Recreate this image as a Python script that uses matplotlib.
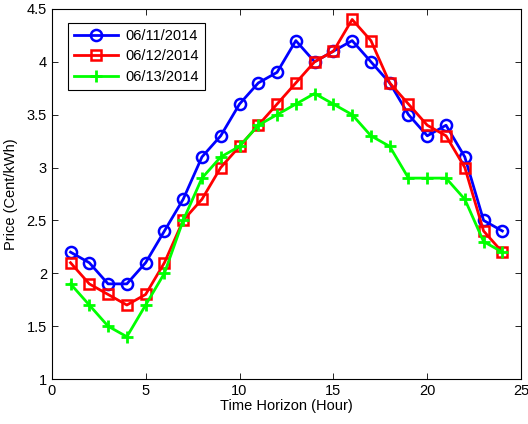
import numpy as np
import matplotlib
matplotlib.use('Agg')
import matplotlib.pyplot as plt

plt.rcParams['font.family'] = ['Liberation Sans', 'DejaVu Sans']
plt.rcParams['font.size'] = 10.5

hours = np.arange(1, 25)
price_0611 = [2.2, 2.1, 1.9, 1.9, 2.1, 2.4, 2.7, 3.1, 3.3, 3.6, 3.8, 3.9,
              4.2, 4.0, 4.1, 4.2, 4.0, 3.8, 3.5, 3.3, 3.4, 3.1, 2.5, 2.4]
price_0612 = [2.1, 1.9, 1.8, 1.7, 1.8, 2.1, 2.5, 2.7, 3.0, 3.2, 3.4, 3.6,
              3.8, 4.0, 4.1, 4.4, 4.2, 3.8, 3.6, 3.4, 3.3, 3.0, 2.4, 2.2]
price_0613 = [1.9, 1.7, 1.5, 1.4, 1.7, 2.0, 2.5, 2.9, 3.1, 3.2, 3.4, 3.5,
              3.6, 3.7, 3.6, 3.5, 3.3, 3.2, 2.9, 2.9, 2.9, 2.7, 2.3, 2.2]
labels = ['06/11/2014', '06/12/2014', '06/13/2014']

fig = plt.figure(figsize=(5.28, 4.24), dpi=100)
ax = fig.add_axes([0.098, 0.106, 0.889, 0.873])

ax.plot(hours, price_0611, color='#0000ff', lw=2, marker='o', ms=8,
        mfc='none', mec='#0000ff', mew=1.8, label=labels[0])
ax.plot(hours, price_0612, color='#ff0000', lw=2, marker='s', ms=7,
        mfc='none', mec='#ff0000', mew=1.8, label=labels[1])
ax.plot(hours, price_0613, color='#00ff00', lw=2, marker='+', ms=8,
        mew=2, label=labels[2])

ax.set_xlim(0, 25)
ax.set_ylim(1, 4.5)
ax.set_xticks([0, 5, 10, 15, 20, 25])
ax.set_yticks([1, 1.5, 2, 2.5, 3, 3.5, 4, 4.5])
ax.set_yticklabels(['1', '1.5', '2', '2.5', '3', '3.5', '4', '4.5'])
ax.tick_params(direction='in', top=True, right=True, length=4, width=0.6)
for s in ax.spines.values():
    s.set_linewidth(0.8)

ax.set_xlabel('Time Horizon (Hour)', labelpad=1)
ax.set_ylabel('Price (Cent/kWh)', labelpad=6)

leg = ax.legend(loc='upper left', bbox_to_anchor=(0.02, 0.982), fancybox=False,
                edgecolor='black', framealpha=1, handlelength=3.0,
                borderpad=0.4, labelspacing=0.45, handletextpad=0.5)
leg.get_frame().set_linewidth(0.8)

fig.savefig('out.png', dpi=100)
